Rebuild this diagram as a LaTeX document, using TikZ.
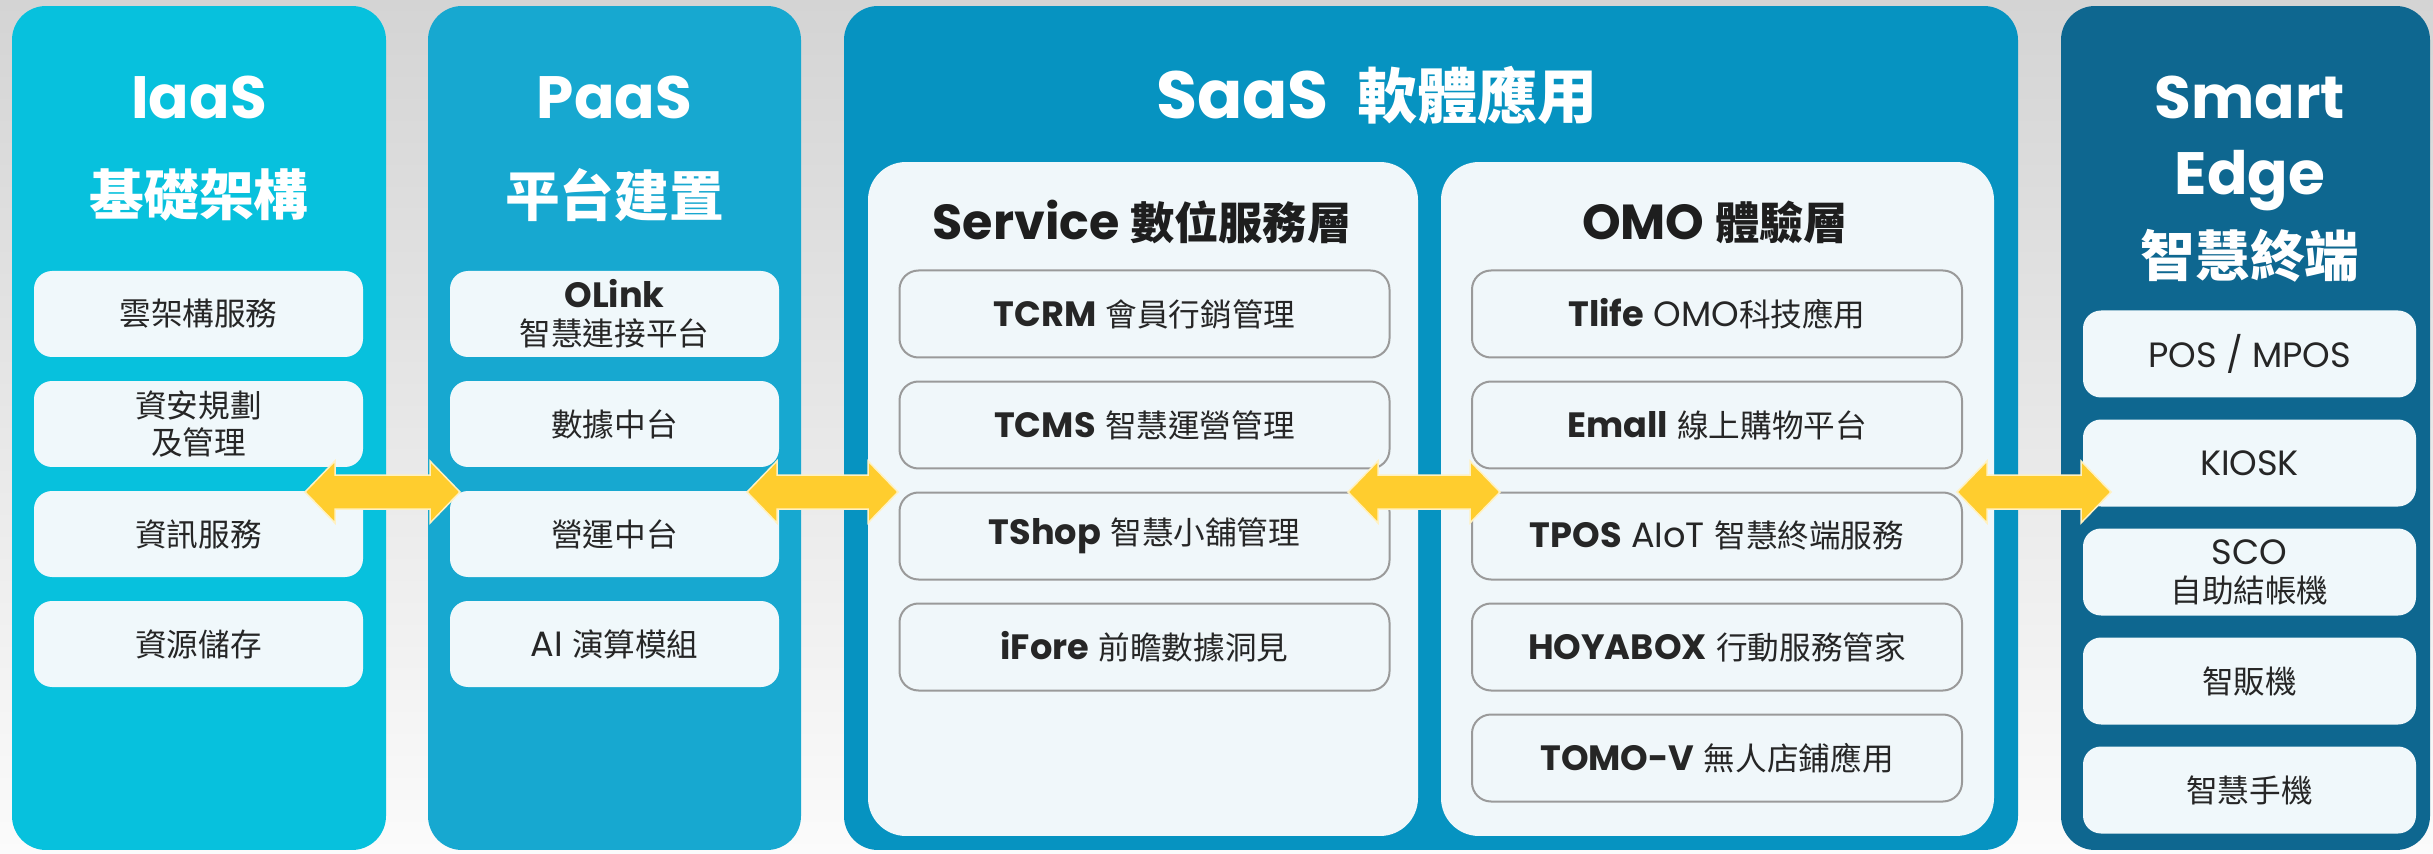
\documentclass[tikz,border=0pt]{standalone}
\usepackage{fontspec}
\setmainfont{Poppins}
\newfontfamily\cjk{Noto Sans CJK TC}[Scale=0.9]
\usetikzlibrary{calc}

\definecolor{bgtop}{HTML}{D4D4D4}
\definecolor{bgbot}{HTML}{FBFBFB}
\definecolor{iaascol}{HTML}{07C1DD}
\definecolor{paascol}{HTML}{17A8D0}
\definecolor{saascol}{HTML}{0693C1}
\definecolor{edgecol}{HTML}{0E6790}
\definecolor{panelfill}{HTML}{F0F7FA}
\definecolor{boxfill}{HTML}{F0F8FB}
\definecolor{boxline}{HTML}{9A9A9A}
\definecolor{boxtext}{HTML}{262626}
\definecolor{titletext}{HTML}{1E1E1E}
\definecolor{arrowfill}{HTML}{FFCD2E}
\definecolor{arrowedge}{HTML}{FFF1C2}

\tikzset{
    column/.style={rounded corners=3.4mm, minimum height=84.4mm, inner sep=0pt},
    panel/.style={fill=panelfill, rounded corners=3.8mm, minimum height=67.4mm, minimum width=55mm, inner sep=0pt},
    coltitle/.style={text=white, anchor=base, font=\bfseries\fontsize{17}{20}\selectfont},
    colsub/.style={text=white, font=\fontsize{17.3}{19}\selectfont\cjk\bfseries},
    paneltitle/.style={text=titletext, anchor=base, font=\bfseries\fontsize{14}{16}\selectfont},
    fbox/.style={fill=boxfill, rounded corners=1.8mm, minimum width=32.9mm, minimum height=8.6mm,
        inner sep=0pt, align=center, text=boxtext, font=\fontsize{10}{10.8}\selectfont},
    zbox/.style={fbox, font=\fontsize{10}{10.8}\selectfont\cjk},
    ebox/.style={fbox, minimum width=33.3mm, minimum height=8.7mm},
    obox/.style={fbox, fill=none, draw=boxline, line width=0.2mm, rounded corners=1.9mm,
        minimum width=49mm, minimum height=8.7mm},
    yarrow/.style={fill=arrowfill, draw=arrowedge, line width=0.15mm, line join=miter,
        to path={-- ($(\tikztostart)+(30,-31)$) -- ($(\tikztostart)+(30,-17)$)
            -- ($(\tikztotarget)+(-30,-17)$) -- ($(\tikztotarget)+(-30,-31)$)
            -- (\tikztotarget) -- ($(\tikztotarget)+(-30,31)$) -- ($(\tikztotarget)+(-30,17)$)
            -- ($(\tikztostart)+(30,17)$) -- ($(\tikztostart)+(30,31)$) -- cycle}},
}

\begin{document}
\begin{tikzpicture}[x=0.1mm, y=-0.1mm]
        \useasboundingbox (0,0) rectangle (2433,854);
        \shade[top color=bgtop, bottom color=bgbot] (0,0) rectangle (2433,854);

        \node[column, fill=iaascol, minimum width=37.4mm] (iaas) at (199,428) {};
        \node[coltitle] (iaasT) at (199,119) {IaaS};
        \node[colsub] (iaasS) at (199,195) {基礎架構};
        \node[zbox] (i1) at (198.5,314) {雲架構服務};
        \node[zbox] (i2) at (198.5,424) {資安規劃\\及管理};
        \node[zbox] (i3) at (198.5,534) {資訊服務};
        \node[zbox] (i4) at (198.5,644) {資源儲存};
        %%%%%%%%%%

        \node[column, fill=paascol, minimum width=37.3mm] (paas) at (614.5,428) {};
        \node[coltitle] (paasT) at (614.5,119) {PaaS};
        \node[colsub] (paasS) at (614.5,195) {平台建置};
        \node[fbox] (p1) at (614.5,314) {{\bfseries OLink}\\{\cjk 智慧連接平台}};
        \node[zbox] (p2) at (614.5,424) {數據中台};
        \node[zbox] (p3) at (614.5,534) {營運中台};
        \node[fbox] (p4) at (614.5,644) {AI {\cjk 演算模組}};
        %%%%%%%%%%

        \node[column, fill=saascol, minimum width=117.4mm] (saas) at (1431,428) {};
        \node[coltitle, font=\bfseries\fontsize{19}{21}\selectfont] (saasT) at (1377,119) {SaaS\ \ {\cjk 軟體應用}};

        \node[panel] (svc) at (1143,499) {};
        \node[paneltitle] (svcT) at (1142,240) {Service {\cjk 數位服務層}};
        \node[obox] (s1) at (1144.5,314) {{\bfseries TCRM} {\cjk 會員行銷管理}};
        \node[obox] (s2) at (1144.5,425) {{\bfseries TCMS} {\cjk 智慧運營管理}};
        \node[obox] (s3) at (1144.5,536) {{\bfseries TShop} {\cjk 智慧小舖管理}};
        \node[obox] (s4) at (1144.5,647) {{\bfseries iFore} {\cjk 前瞻數據洞見}};

        \node[panel, minimum width=55.3mm] (omo) at (1717.5,499) {};
        \node[paneltitle] (omoT) at (1715,240) {OMO {\cjk 體驗層}};
        \node[obox] (o1) at (1717,314) {{\bfseries Tlife} OMO{\cjk 科技應用}};
        \node[obox] (o2) at (1717,425) {{\bfseries Emall} {\cjk 線上購物平台}};
        \node[obox] (o3) at (1717,536) {{\bfseries TPOS} AIoT {\cjk 智慧終端服務}};
        \node[obox] (o4) at (1717,647) {{\bfseries HOYABOX} {\cjk 行動服務管家}};
        \node[obox] (o5) at (1717,758) {{\bfseries TOMO-V} {\cjk 無人店鋪應用}};
        %%%%%%%%%%

        \node[column, fill=edgecol, minimum width=36.9mm] (edge) at (2245.5,428) {};
        \node[coltitle] (edgeT) at (2250,119) {Smart};
        \node[coltitle] (edgeT2) at (2250,195) {Edge};
        \node[colsub] (edgeS) at (2250,256) {智慧終端};
        \node[ebox] (e1) at (2249.5,354) {POS / MPOS};
        \node[ebox] (e2) at (2249.5,463) {KIOSK};
        \node[ebox] (e3) at (2249.5,572) {SCO\\{\cjk 自助結帳機}};
        \node[ebox, font=\fontsize{10}{10.8}\selectfont\cjk] (e4) at (2249.5,681) {智販機};
        \node[ebox, font=\fontsize{10}{10.8}\selectfont\cjk] (e5) at (2249.5,790) {智慧手機};
        %%%%%%%%%%

        \coordinate (a1) at (305,492);
        \coordinate (b1) at (460,492);
        \coordinate (a2) at (747,492);
        \coordinate (b2) at (898,492);
        \coordinate (a3) at (1348,492);
        \coordinate (b3) at (1500,492);
        \coordinate (a4) at (1957,492);
        \coordinate (b4) at (2111,492);
        \draw[yarrow] (a1) to (b1);
        \draw[yarrow] (a2) to (b2);
        \draw[yarrow] (a3) to (b3);
        \draw[yarrow] (a4) to (b4);
    \end{tikzpicture}
\end{document}
